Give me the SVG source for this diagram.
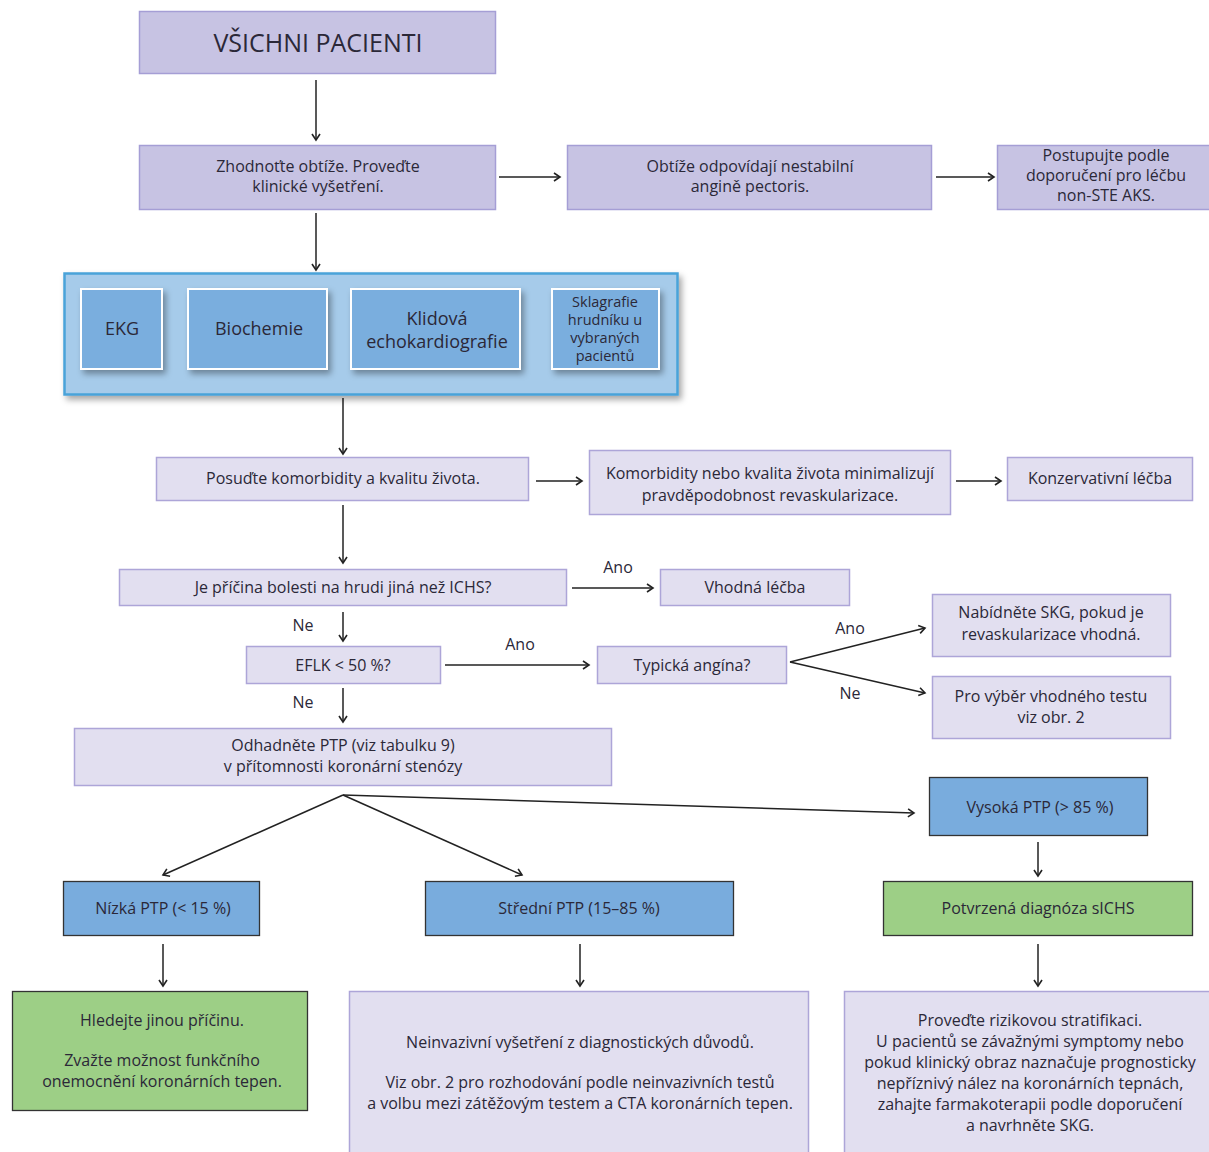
<svg xmlns="http://www.w3.org/2000/svg" width="1209" height="1152" viewBox="0 0 1209 1152">
<style>
text{font-family:"Open Sans","Liberation Sans",Arial,sans-serif;font-size:16px;fill:#2b2838;text-anchor:middle}
.n1{fill:#c7c3e3;stroke:#a59ed5;stroke-width:1.5}
.n2{fill:#e2dff0;stroke:#ada5d8;stroke-width:1.5}
.bl{fill:#79acdd;stroke:#333;stroke-width:1.3}
.gr{fill:#9dcf86;stroke:#333;stroke-width:1.3}
.in{fill:#7aaede;stroke:#fff;stroke-width:2}
.c{stroke:#222;stroke-width:1.5;fill:none}
.a{marker-end:url(#ah)}
.big{font-size:18px}
.sm{font-size:14.5px}
</style>
<defs>
<marker id="ah" markerWidth="12" markerHeight="12" refX="9" refY="6" orient="auto" markerUnits="userSpaceOnUse">
<path d="M3,2 L9,6 L3,10" fill="none" stroke="#222" stroke-width="1.6"/>
</marker>
<filter id="sh" x="-10%" y="-10%" width="125%" height="140%">
<feDropShadow dx="3" dy="4" stdDeviation="3" flood-color="#000" flood-opacity="0.35"/>
</filter>
</defs>
<rect width="1209" height="1152" fill="#fff"/>

<g id="connectors">
<line class="c a" x1="316" y1="80" x2="316" y2="140"/>
<line class="c a" x1="499" y1="177" x2="560" y2="177"/>
<line class="c a" x1="936" y1="177" x2="994" y2="177"/>
<line class="c a" x1="316" y1="213" x2="316" y2="270"/>
<line class="c a" x1="343" y1="398" x2="343" y2="454"/>
<line class="c a" x1="536" y1="481" x2="582" y2="481"/>
<line class="c a" x1="956" y1="481" x2="1001" y2="481"/>
<line class="c a" x1="343" y1="505" x2="343" y2="563"/>
<line class="c a" x1="572" y1="588" x2="653" y2="588"/>
<text x="618" y="573">Ano</text>
<line class="c a" x1="343" y1="612" x2="343" y2="641"/>
<text x="303" y="631">Ne</text>
<line class="c a" x1="445" y1="665" x2="589" y2="665"/>
<text x="520" y="650">Ano</text>
<line class="c a" x1="790" y1="662" x2="925" y2="628"/>
<line class="c a" x1="790" y1="662" x2="925" y2="693"/>
<text x="850" y="634">Ano</text>
<text x="850" y="699">Ne</text>
<line class="c a" x1="343" y1="688" x2="343" y2="722"/>
<text x="303" y="708">Ne</text>
<line class="c a" x1="343" y1="795" x2="163" y2="875"/>
<line class="c a" x1="343" y1="795" x2="522" y2="875"/>
<line class="c a" x1="343" y1="795" x2="914" y2="813"/>
<line class="c a" x1="1038" y1="842" x2="1038" y2="876"/>
<line class="c a" x1="163" y1="944" x2="163" y2="986"/>
<line class="c a" x1="580" y1="944" x2="580" y2="986"/>
<line class="c a" x1="1038" y1="944" x2="1038" y2="986"/>
</g>

<g id="n-vsichni">
<rect class="n1" x="139.5" y="11.5" width="356" height="62"/>
<text x="318" y="52" style="font-size:25px">VŠICHNI PACIENTI</text>
</g>
<g id="n-zhodnotte">
<rect class="n1" x="139.5" y="145.5" width="356" height="64"/>
<text x="318" y="172">Zhodnoťte obtíže. Proveďte</text>
<text x="318" y="192">klinické vyšetření.</text>
</g>
<g id="n-obtize">
<rect class="n1" x="567.5" y="145.5" width="364" height="64"/>
<text x="750" y="172">Obtíže odpovídají nestabilní</text>
<text x="750" y="192">angině pectoris.</text>
</g>
<g id="n-postupujte">
<rect class="n1" x="997.5" y="145.5" width="215" height="64"/>
<text x="1106" y="161">Postupujte podle</text>
<text x="1106" y="181">doporučení pro léčbu</text>
<text x="1106" y="201">non-STE AKS.</text>
</g>

<g id="n-vysetreni">
<rect x="64.5" y="273.5" width="613" height="121" fill="#a6cbea" stroke="#4aa3d9" stroke-width="2.5" filter="url(#sh)"/>
<g id="n-ekg"><rect class="in" x="81" y="289" width="81" height="80" filter="url(#sh)"/><text class="big" x="122" y="335">EKG</text></g>
<g id="n-biochemie"><rect class="in" x="188" y="289" width="139" height="80" filter="url(#sh)"/><text class="big" x="259" y="335">Biochemie</text></g>
<g id="n-echo"><rect class="in" x="351" y="289" width="169" height="80" filter="url(#sh)"/><text class="big" x="437" y="325">Klidová</text><text class="big" x="437" y="348">echokardiografie</text></g>
<g id="n-sklagrafie"><rect class="in" x="552" y="289" width="107" height="80" filter="url(#sh)"/><text class="sm" x="605" y="307">Sklagrafie</text><text class="sm" x="605" y="325">hrudníku u</text><text class="sm" x="605" y="343">vybraných</text><text class="sm" x="605" y="361">pacientů</text></g>
</g>

<g id="n-posudte">
<rect class="n2" x="156.5" y="457.5" width="372" height="43"/>
<text x="343" y="484">Posuďte komorbidity a kvalitu života.</text>
</g>
<g id="n-komorbidity">
<rect class="n2" x="589.5" y="450.5" width="361" height="64"/>
<text x="770" y="479">Komorbidity nebo kvalita života minimalizují</text>
<text x="770" y="501">pravděpodobnost revaskularizace.</text>
</g>
<g id="n-konzervativni">
<rect class="n2" x="1007.5" y="457.5" width="185" height="43"/>
<text x="1100" y="484">Konzervativní léčba</text>
</g>
<g id="n-pricina">
<rect class="n2" x="119.5" y="569.5" width="447" height="36"/>
<text x="343" y="593">Je příčina bolesti na hrudi jiná než ICHS?</text>
</g>
<g id="n-vhodna">
<rect class="n2" x="660.5" y="569.5" width="189" height="36"/>
<text x="755" y="593">Vhodná léčba</text>
</g>
<g id="n-eflk">
<rect class="n2" x="246.5" y="646.5" width="194" height="37"/>
<text x="343" y="671">EFLK &lt; 50 %?</text>
</g>
<g id="n-typicka">
<rect class="n2" x="597.5" y="646.5" width="189" height="37"/>
<text x="692" y="671">Typická angína?</text>
</g>
<g id="n-nabidnete">
<rect class="n2" x="932.5" y="594.5" width="238" height="62"/>
<text x="1051" y="618">Nabídněte SKG, pokud je</text>
<text x="1051" y="640">revaskularizace vhodná.</text>
</g>
<g id="n-provyber">
<rect class="n2" x="932.5" y="676.5" width="238" height="62"/>
<text x="1051" y="702">Pro výběr vhodného testu</text>
<text x="1051" y="723">viz obr. 2</text>
</g>
<g id="n-odhadnete">
<rect class="n2" x="74.5" y="728.5" width="537" height="57"/>
<text x="343" y="751">Odhadněte PTP (viz tabulku 9)</text>
<text x="343" y="772">v přítomnosti koronární stenózy</text>
</g>
<g id="n-vysoka">
<rect class="bl" x="929.5" y="777.5" width="218" height="58"/>
<text x="1040" y="813">Vysoká PTP (&gt; 85 %)</text>
</g>
<g id="n-nizka">
<rect class="bl" x="63.5" y="881.5" width="196" height="54"/>
<text x="163" y="914">Nízká PTP (&lt; 15 %)</text>
</g>
<g id="n-stredni">
<rect class="bl" x="425.5" y="881.5" width="308" height="54"/>
<text x="579" y="914">Střední PTP (15–85 %)</text>
</g>
<g id="n-potvrzena">
<rect class="gr" x="883.5" y="881.5" width="309" height="54"/>
<text x="1038" y="914">Potvrzená diagnóza sICHS</text>
</g>
<g id="n-hledejte">
<rect class="gr" x="12.5" y="991.5" width="295" height="119"/>
<text x="162" y="1026">Hledejte jinou příčinu.</text>
<text x="162" y="1066">Zvažte možnost funkčního</text>
<text x="162" y="1087">onemocnění koronárních tepen.</text>
</g>
<g id="n-neinvazivni">
<rect class="n2" x="349.5" y="991.5" width="459" height="170"/>
<text x="580" y="1048">Neinvazivní vyšetření z diagnostických důvodů.</text>
<text x="580" y="1088">Viz obr. 2 pro rozhodování podle neinvazivních testů</text>
<text x="580" y="1109">a volbu mezi zátěžovým testem a CTA koronárních tepen.</text>
</g>
<g id="n-provedte">
<rect class="n2" x="844.5" y="991.5" width="380" height="170"/>
<text x="1030" y="1026">Proveďte rizikovou stratifikaci.</text>
<text x="1030" y="1047">U pacientů se závažnými symptomy nebo</text>
<text x="1030" y="1068">pokud klinický obraz naznačuje prognosticky</text>
<text x="1030" y="1089">nepříznivý nález na koronárních tepnách,</text>
<text x="1030" y="1110">zahajte farmakoterapii podle doporučení</text>
<text x="1030" y="1131">a navrhněte SKG.</text>
</g>
</svg>
